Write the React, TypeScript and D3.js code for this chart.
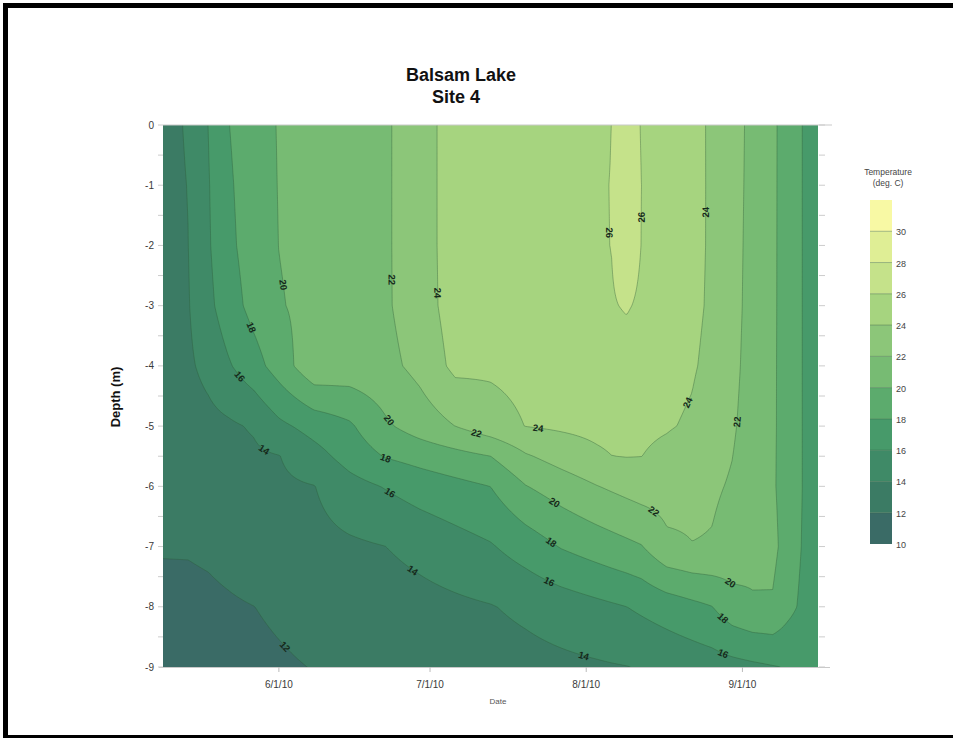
import React, { useMemo, useEffect } from "react";
import * as d3 from "d3";

// ---- data ----
const sampleDates = ["5/9","5/14","5/18","5/22","5/27","6/1","6/8","6/15","6/22","6/29","7/6","7/13","7/20","7/27","8/3","8/6","8/9","8/12","8/17","8/22","8/26","8/30","9/3","9/7","9/10","9/13","9/16"];
const depths = [0, 1, 2, 3, 4, 5, 5.5, 6, 7, 8, 9];

const t0m = [13.3,14.2,16.03,17.95,19.15,20.11,20.68,21.26,21.7,23.19,24.86,24.61,25.01,25.42,25.82,25.99,27.14,25.87,25.16,24.45,23.78,22.69,21.55,20.33,19.19,17.95,17.0];
const t1m = [13.3,14.05,15.88,17.73,19.02,20.07,20.65,21.24,21.7,23.19,24.86,24.62,25.03,25.44,25.85,26.03,27.27,25.98,25.23,24.48,23.77,22.65,21.51,20.32,19.19,17.95,17.0];
const t2m = [13.2,13.98,15.79,17.57,18.91,20.02,20.62,21.22,21.7,23.19,24.86,24.62,25.03,25.43,25.84,26.02,27.08,25.95,25.21,24.47,23.77,22.61,21.46,20.31,19.19,17.95,17.0];
const t3m = [13.1,13.88,15.5,17.1,18.64,19.86,20.56,21.17,21.7,23.11,24.85,24.56,24.94,25.32,25.7,25.86,26.15,25.72,25.06,24.4,23.73,22.56,21.42,20.3,19.19,17.95,17.0];
const t4m = [13.0,13.69,14.55,15.79,17.21,18.89,21.5,21.2,21.4,22.58,24.48,24.33,24.59,24.86,25.12,25.24,25.2,24.96,24.57,24.18,23.54,22.43,21.35,20.28,19.19,17.95,16.9];
const t5m = [12.8,13.15,13.42,13.7,14.2,15.55,16.73,17.69,19.66,20.93,22.01,23.11,24.04,24.28,24.51,24.6,24.47,24.35,24.15,23.77,22.98,22.2,21.26,20.27,19.19,17.95,16.9];
const t5_5m = [12.7,12.97,13.18,13.4,13.67,13.94,15.27,16.76,18.09,18.73,19.36,19.99,21.79,22.78,23.66,23.98,24.05,24.01,23.54,22.95,22.49,22.02,21.15,20.24,19.19,17.95,16.85];
const t6m = [12.6,12.83,13.01,13.19,13.41,13.64,13.95,15.29,16.1,16.87,17.44,18.01,19.93,20.95,21.93,22.27,22.6,22.92,22.86,22.51,22.23,21.84,21.03,20.22,19.19,17.95,16.8];
const t7m = [12.1,12.1,12.2,12.4,12.7,13.08,13.38,13.68,13.98,14.58,15.21,15.83,16.91,18.11,18.9,19.24,19.57,19.91,21.58,21.95,21.88,21.3,20.65,20.5,19.16,17.86,16.7];
const t8m = [11.6,11.65,11.73,11.85,11.99,12.19,12.48,12.76,13.05,13.34,13.63,13.91,14.39,14.95,15.51,15.75,15.99,16.34,16.92,17.5,17.97,19.2,19.75,19.8,18.6,17.6,16.6];
const t9m = [11.2,11.34,11.45,11.56,11.7,11.84,12.04,12.26,12.48,12.69,12.91,13.13,13.34,13.56,13.77,13.87,13.96,14.12,14.46,14.8,15.08,15.35,15.63,15.9,16.1,16.3,16.5];

const thresholds = [10, 12, 14, 16, 18, 20, 22, 24, 26, 28, 30];
const legendTop = 32;
const bandColors = ["#3a6b66","#3b7b64","#3f8a67","#479a6a","#5cab6d","#77bb73","#8cc679","#a6d47f","#c5e28a","#dfee95","#f8f9a4"];
const legendTicks = [10, 12, 14, 16, 18, 20, 22, 24, 26, 28, 30];

const xTickLabels = ["6/1/10", "7/1/10", "8/1/10", "9/1/10"];
const yTickValues = [0, -1, -2, -3, -4, -5, -6, -7, -8, -9];

const labelValues = [20,22,24,18,16,14,12,20,18,16,22,24,20,18,16,14,14,22,20,18,16,26,26,24,24,22];
const labelDates = ["6/1","6/23","7/2","5/25","5/24","5/30","6/3","6/22","6/22","6/22","7/10","7/22","7/25","7/25","7/25","6/29","8/1","8/13","8/29","8/29","8/29","8/5","8/12","8/25","8/23","8/31"];
const labelDepths = [2.66,2.57,2.79,3.41,4.19,5.28,8.6,4.95,5.56,6.26,5.18,5.2,6.36,6.93,7.52,7.23,8.69,6.56,7.67,8.11,8.64,1.79,1.53,1.45,4.65,4.93];

// ---- layout ----
const W = 953, H = 738;
const PL = 163, PR = 818, PT = 125, PB = 667;
const FONT = "'Liberation Sans', Arial, Helvetica, sans-serif";

const parseMD = (s: string) => {
  const p = s.split("/").map(Number);
  return new Date(2010, p[0] - 1, p[1]);
};
const parseMDY = (s: string) => {
  const p = s.split("/").map(Number);
  return new Date(2000 + p[2], p[0] - 1, p[1]);
};

export default function App() {
  useEffect(() => {
    document.body.style.margin = "0";
    document.documentElement.style.overflow = "hidden";
    document.body.style.overflow = "hidden";
  }, []);

  const tempRows = [t0m, t1m, t2m, t3m, t4m, t5m, t5_5m, t6m, t7m, t8m, t9m];
  const start = parseMD(sampleDates[0]);
  const end = parseMD(sampleDates[sampleDates.length - 1]);
  const dayOf = (d: Date) => Math.round((d.getTime() - start.getTime()) / 864e5);
  const colDays = sampleDates.map((s) => dayOf(parseMD(s)));
  const totalDays = colDays[colDays.length - 1];

  const xScale = d3.scaleTime().domain([start, end]).range([PL, PR]);
  const yScale = d3.scaleLinear().domain([0, -9]).range([PT, PB]);
  const cScale = d3.scaleLinear().domain([10, legendTop]).range([544, 200]);

  const dateAtDay = (day: number) => new Date(start.getTime() + day * 864e5);

  const field = (day: number, depth: number) => {
    let i = d3.bisectRight(colDays, day) - 1;
    i = Math.max(0, Math.min(colDays.length - 2, i));
    let j = d3.bisectRight(depths, depth) - 1;
    j = Math.max(0, Math.min(depths.length - 2, j));
    const fx = (day - colDays[i]) / (colDays[i + 1] - colDays[i]);
    const fy = (depth - depths[j]) / (depths[j + 1] - depths[j]);
    const r0 = tempRows[j], r1 = tempRows[j + 1];
    const a = r0[i] * (1 - fx) + r0[i + 1] * fx;
    const b = r1[i] * (1 - fx) + r1[i + 1] * fx;
    return a * (1 - fy) + b * fy;
  };

  const fieldPx = (px: number, py: number) => {
    const day = (xScale.invert(px).getTime() - start.getTime()) / 864e5;
    const depth = -yScale.invert(py);
    return field(Math.max(0, Math.min(totalDays, day)), Math.max(0, Math.min(9, depth)));
  };

  const { paths } = useMemo(() => {
    const nx = 420, ny = 320;
    const values = new Float64Array(nx * ny);
    for (let j = 0; j < ny; j++) {
      const depth = (j / (ny - 1)) * 9;
      for (let i = 0; i < nx; i++) {
        const day = (i / (nx - 1)) * totalDays;
        values[j * nx + i] = field(day, depth);
      }
    }
    const contours = d3.contours().size([nx, ny]).thresholds(thresholds)(Array.from(values));
    const proj = d3.geoTransform({
      point: function (x: number, y: number) {
        const day = ((x - 0.5) / (nx - 1)) * totalDays;
        const depth = ((y - 0.5) / (ny - 1)) * 9;
        (this as any).stream.point(xScale(dateAtDay(day)), yScale(-depth));
      },
    });
    const gp = d3.geoPath(proj);
    return {
      paths: contours.map((c) => ({ value: c.value, d: gp(c as any) || "" })),
    };
  }, []);

  // contour labels, snapped to their line, oriented along it
  const labels = labelValues.map((v, k) => {
    let px = xScale(parseMD(labelDates[k]));
    let py = yScale(-labelDepths[k]);
    const ox = px, oy = py;
    const h = 1.5;
    for (let it = 0; it < 8; it++) {
      const f = fieldPx(px, py) - v;
      const gx = (fieldPx(px + h, py) - fieldPx(px - h, py)) / (2 * h);
      const gy = (fieldPx(px, py + h) - fieldPx(px, py - h)) / (2 * h);
      const g2 = gx * gx + gy * gy;
      if (g2 < 1e-9) break;
      px -= (f * gx) / g2;
      py -= (f * gy) / g2;
      const dx = px - ox, dy = py - oy, dist = Math.hypot(dx, dy);
      if (dist > 18) { px = ox + (dx / dist) * 18; py = oy + (dy / dist) * 18; }
    }
    const gx = fieldPx(px + h, py) - fieldPx(px - h, py);
    const gy = fieldPx(px, py + h) - fieldPx(px, py - h);
    let ang = (Math.atan2(gx, -gy) * 180) / Math.PI;
    if (ang > 90) ang -= 180;
    if (ang <= -90) ang += 180;
    return { v, x: px, y: py, ang };
  });

  const halfTicks: number[] = [];
  yTickValues.forEach((t, i) => {
    halfTicks.push(t);
    if (i < yTickValues.length - 1) halfTicks.push((t + yTickValues[i + 1]) / 2);
  });

  const legendBands = thresholds.map((t, i) => ({
    lo: t,
    hi: i < thresholds.length - 1 ? thresholds[i + 1] : legendTop,
    color: bandColors[i],
  }));

  return (
    <svg
      width={W}
      height={H}
      style={{ position: "fixed", left: 0, top: 0, background: "#fff", display: "block" }}
      fontFamily={FONT}
    >
      <rect x={0} y={0} width={W} height={H} fill="#fff" />
      {/* black frame */}
      <rect x={3} y={3} width={W - 3} height={5} fill="#000" />
      <rect x={3} y={3} width={5} height={H - 3} fill="#000" />
      <rect x={3} y={735} width={W - 3} height={3} fill="#000" />

      {/* title */}
      <text x={461} y={81} textAnchor="middle" fontSize={18} fontWeight="bold" fill="#111">Balsam Lake</text>
      <text x={456} y={103} textAnchor="middle" fontSize={18} fontWeight="bold" fill="#111">Site 4</text>

      <defs>
        <clipPath id="plotClip">
          <rect x={PL} y={PT} width={PR - PL} height={PB - PT} />
        </clipPath>
      </defs>

      <g clipPath="url(#plotClip)">
        {paths.map((p, i) => (
          <path key={"f" + i} d={p.d} fill={bandColors[thresholds.indexOf(p.value)]} stroke="none" />
        ))}
        {paths.map((p, i) =>
          p.value > thresholds[0] ? (
            <path key={"s" + i} d={p.d} fill="none" stroke="#2c5a36" strokeOpacity={0.55} strokeWidth={0.7} />
          ) : null
        )}
      </g>

      {/* contour labels */}
      {labels.map((l, i) => (
        <text
          key={"l" + i}
          transform={`translate(${l.x},${l.y}) rotate(${l.ang})`}
          textAnchor="middle"
          dominantBaseline="central"
          fontSize={9.5}
          fontWeight="bold"
          fill="#15291a"
        >
          {l.v}
        </text>
      ))}

      {/* axes lines */}
      <line x1={PL} x2={832} y1={PT} y2={PT} stroke="#c9c9c9" strokeWidth={1} />
      <line x1={159} x2={830} y1={PB + 0.5} y2={PB + 0.5} stroke="#c9c9c9" strokeWidth={1} />
      {halfTicks.map((t, i) => (
        <g key={"yt" + i}>
          <line x1={158} x2={PL} y1={yScale(t)} y2={yScale(t)} stroke="#cccccc" />
          <line x1={PR + 1} x2={PR + 7} y1={yScale(t)} y2={yScale(t)} stroke="#cccccc" />
        </g>
      ))}
      {yTickValues.map((t) => (
        <text key={"yl" + t} x={154} y={yScale(t)} textAnchor="end" dominantBaseline="central" fontSize={10} fill="#3a3a3a">
          {t}
        </text>
      ))}
      {xTickLabels.map((s) => {
        const x = xScale(parseMDY(s));
        return (
          <g key={s}>
            <line x1={x} x2={x} y1={PB} y2={PB + 5} stroke="#bbbbbb" />
            <text x={x} y={688} textAnchor="middle" fontSize={10} fill="#3a3a3a">{s}</text>
          </g>
        );
      })}
      <text x={498} y={704} textAnchor="middle" fontSize={8} fill="#555">Date</text>
      <text
        transform={`translate(120,397) rotate(-90)`}
        textAnchor="middle"
        fontSize={13}
        fontWeight="bold"
        fill="#111"
      >
        Depth (m)
      </text>

      {/* colorbar */}
      <text x={888} y={175} textAnchor="middle" fontSize={8.5} fill="#444">Temperature</text>
      <text x={888} y={186} textAnchor="middle" fontSize={8.5} fill="#444">(deg. C)</text>
      {legendBands.map((b, i) => (
        <rect key={"cb" + i} x={870} y={cScale(b.hi)} width={22} height={cScale(b.lo) - cScale(b.hi)} fill={b.color} />
      ))}
      {legendTicks.slice(1).map((t) => (
        <line key={"cl" + t} x1={870} x2={892} y1={cScale(t)} y2={cScale(t)} stroke="#2c5a36" strokeOpacity={0.5} strokeWidth={0.8} />
      ))}
      {legendTicks.map((t) => (
        <text key={"ct" + t} x={896} y={cScale(t) + 1} dominantBaseline="central" fontSize={9} fill="#444">
          {t}
        </text>
      ))}
    </svg>
  );
}
